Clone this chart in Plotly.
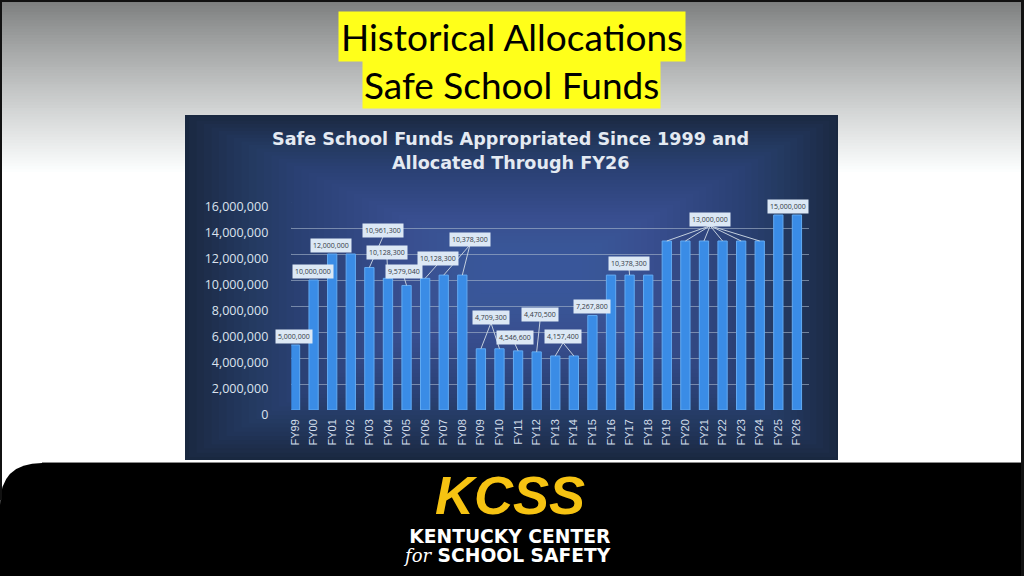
import plotly.graph_objects as go

# ---------------- data ----------------
categories = ["FY99", "FY00", "FY01", "FY02", "FY03", "FY04", "FY05", "FY06", "FY07",
              "FY08", "FY09", "FY10", "FY11", "FY12", "FY13", "FY14", "FY15", "FY16",
              "FY17", "FY18", "FY19", "FY20", "FY21", "FY22", "FY23", "FY24", "FY25", "FY26"]
values = [5000000, 10000000, 12000000, 12000000, 10961300, 10128300, 9579040, 10128300,
          10378300, 10378300, 4709300, 4709300, 4546600, 4470500, 4157400, 4157400,
          7267800, 10378300, 10378300, 10378300, 13000000, 13000000, 13000000, 13000000,
          13000000, 13000000, 15000000, 15000000]
y_ticks = [0, 2000000, 4000000, 6000000, 8000000, 10000000, 12000000, 14000000, 16000000]

# callout boxes: bars they refer to, whether leader lines are drawn
label_bars = [[0], [1], [2], [4], [5], [6], [7], [8, 9], [10, 11], [12], [13], [14, 15],
              [16], [18], [20, 21, 22, 23, 24, 25], [26, 27]]
label_leaders = [False, False, False, True, True, True, True, True, True, True, True, True,
                 False, True, True, False]
# box placement (layout, category-index / value units)
label_box_x = [-0.05, 0.97, 1.94, 4.73, 4.95, 5.86, 7.69, 9.41, 10.54, 11.83, 13.18, 14.42,
               16.0, 17.97, 22.33, 26.52]
label_box_y = [5.62e6, 10.62e6, 12.62e6, 13.77e6, 12.08e6, 10.69e6, 11.69e6, 13.15e6,
               7.15e6, 5.54e6, 7.31e6, 5.62e6, 8.0e6, 11.27e6, 14.62e6, 15.69e6]

W, H = 1024, 576


def px(x):
    return x / W


def py(y):
    return 1 - y / H


shapes = []

# slide top gray gradient
n = 60
top_h = 175
for i in range(n):
    t = i / (n - 1)
    c = int(124 + (255 - 124) * min(1, t ** 0.9))
    shapes.append(dict(type="rect", xref="paper", yref="paper", layer="below",
                       x0=0, x1=1, y0=py(top_h * (i + 1) / n + 1), y1=py(top_h * i / n),
                       fillcolor=f"rgb({c},{c+2},{c+2})", line=dict(width=0)))

# chart picture background (dark blue vignette)
cx0, cx1, cy0, cy1 = 185, 838, 115, 460
shapes.append(dict(type="rect", xref="paper", yref="paper", layer="below",
                   x0=px(cx0), x1=px(cx1), y0=py(cy1), y1=py(cy0),
                   fillcolor="#192840", line=dict(width=0)))
for i in range(40):
    lx = cx0 + 4 + i * 7.5
    rx = cx1 - 2 - i * 6.5
    ty = cy0 + 2 + i * 3.5
    by = cy1 - 3 - i * 4.2
    if rx - lx < 40 or by - ty < 20:
        break
    shapes.append(dict(type="rect", xref="paper", yref="paper", layer="below",
                       x0=px(lx), x1=px(rx), y0=py(by), y1=py(ty),
                       fillcolor="rgba(72,118,185,0.037)", line=dict(width=0)))

# slanted (3-D) front edges of gridlines
for v in y_ticks:
    shapes.append(dict(type="line", xref="x", yref="y", layer="below",
                       xsizemode="pixel", xanchor=-0.2, x0=0, x1=-8,
                       ysizemode="pixel", yanchor=v, y0=0, y1=-6,
                       line=dict(color="rgba(170,185,205,0.6)", width=1)))

# leader lines
for bars, lead, bx, by_ in zip(label_bars, label_leaders, label_box_x, label_box_y):
    if not lead:
        continue
    for b in bars:
        shapes.append(dict(type="line", xref="x", yref="y", layer="above",
                           x0=bx, y0=by_ - 0.45e6, x1=b, y1=values[b],
                           line=dict(color="#c3cfdd", width=1)))

# bottom black band with rounded top-left corner
r = 42
shapes.append(dict(type="path", xref="paper", yref="paper", layer="above",
                   path=(f"M {px(0)},{py(576)} L {px(0)},{py(463 + r)} "
                         f"Q {px(0)},{py(463)} {px(r)},{py(463)} "
                         f"L {px(1024)},{py(463)} L {px(1024)},{py(576)} Z"),
                   fillcolor="#000000", line=dict(width=0)))
shapes.append(dict(type="line", xref="paper", yref="paper", layer="above",
                   x0=px(r), x1=1, y0=py(462.5), y1=py(462.5),
                   line=dict(color="#8a8a8a", width=1)))
# slide frame
for (a, b_, c, d) in [(0, 1024, 0, 2), (0, 2, 0, 500), (1021, 1024, 0, 576)]:
    shapes.append(dict(type="rect", xref="paper", yref="paper", layer="above",
                       x0=px(a), x1=px(b_), y0=py(d), y1=py(c),
                       fillcolor="#111111", line=dict(width=0)))

annotations = []
# slide title with yellow highlight
annotations.append(dict(xref="paper", yref="paper", x=px(512), y=py(36), text="Historical Allocations",
                        showarrow=False, font=dict(family="Lato", size=37, color="#000000"),
                        bgcolor="#ffff1a", borderpad=2, xanchor="center", yanchor="middle"))
annotations.append(dict(xref="paper", yref="paper", x=px(511), y=py(84), text="Safe School Funds",
                        showarrow=False, font=dict(family="Lato", size=37, color="#000000"),
                        bgcolor="#ffff1a", borderpad=1, xanchor="center", yanchor="middle"))
# chart title
annotations.append(dict(xref="paper", yref="paper", x=px(510), y=py(139),
                        text="<b>Safe School Funds Appropriated Since 1999 and</b>",
                        showarrow=False, font=dict(family="DejaVu Sans", size=17.6, color="#e4eaf2"),
                        xanchor="center", yanchor="middle"))
annotations.append(dict(xref="paper", yref="paper", x=px(510), y=py(163),
                        text="<b>Allocated Through FY26</b>",
                        showarrow=False, font=dict(family="DejaVu Sans", size=17.6, color="#e4eaf2"),
                        xanchor="center", yanchor="middle"))
# value callouts
for bars, bx, by_ in zip(label_bars, label_box_x, label_box_y):
    annotations.append(dict(xref="x", yref="y", x=bx, y=by_, text=f"{values[bars[0]]:,}",
                            showarrow=False, font=dict(family="Open Sans", size=7, color="#333a44"),
                            bgcolor="#dce8f5", borderpad=2, xanchor="center", yanchor="middle"))
# logo text
annotations.append(dict(xref="paper", yref="paper", x=px(510), y=py(495), text="<b><i>KCSS</i></b>",
                        showarrow=False, font=dict(family="Liberation Sans", size=54, color="#f6c312"),
                        xanchor="center", yanchor="middle"))
annotations.append(dict(xref="paper", yref="paper", x=px(613), y=py(546),
                        text=("<span style='font-size:18.7px'><b>KENTUCKY CENTER</b></span><br>"
                              "<span style='font-family:DejaVu Serif;font-size:18px'><i>for</i></span>"
                              "<span style='font-size:18.7px'><b> SCHOOL SAFETY</b></span>"),
                        showarrow=False, align="right",
                        font=dict(family="DejaVu Sans", size=14.6, color="#ffffff"),
                        xanchor="right", yanchor="middle"))

fig = go.Figure()
fig.add_trace(go.Bar(x=list(range(len(categories))), y=values, width=0.5,
                     marker=dict(color="#3a8ce6", line=dict(color="#62aaf2", width=1)),
                     hoverinfo="skip"))

fig.update_layout(
    width=W, height=H, margin=dict(l=0, r=0, t=0, b=0, pad=0, autoexpand=False),
    paper_bgcolor="#ffffff", plot_bgcolor="rgba(0,0,0,0)",
    showlegend=False, shapes=shapes, annotations=annotations,
    xaxis=dict(domain=[px(291.3), px(809)], range=[-0.2, 27.65], automargin=False,
               tickmode="array", tickvals=list(range(len(categories))), ticktext=categories,
               tickangle=-90, showgrid=False, zeroline=False, showline=False, ticks="",
               tickfont=dict(family="Liberation Sans", size=11, color="#d3deeb"),
               ticklabelstandoff=6, fixedrange=True),
    yaxis=dict(domain=[py(410), py(202)], range=[0, 16000000], automargin=False,
               tickmode="array", tickvals=y_ticks, ticktext=[f"{v:,}" for v in y_ticks],
               showgrid=True, gridcolor="rgba(170,185,205,0.6)", gridwidth=1,
               zeroline=False, showline=False, ticks="",
               tickfont=dict(family="Open Sans", size=12.5, color="#dbe3ee"),
               ticklabelshift=5, ticklabelstandoff=22, fixedrange=True),
    hovermode=False,
)

fig.write_html("out.html", config={"displayModeBar": False},
               post_script="document.body.style.margin='0';")
